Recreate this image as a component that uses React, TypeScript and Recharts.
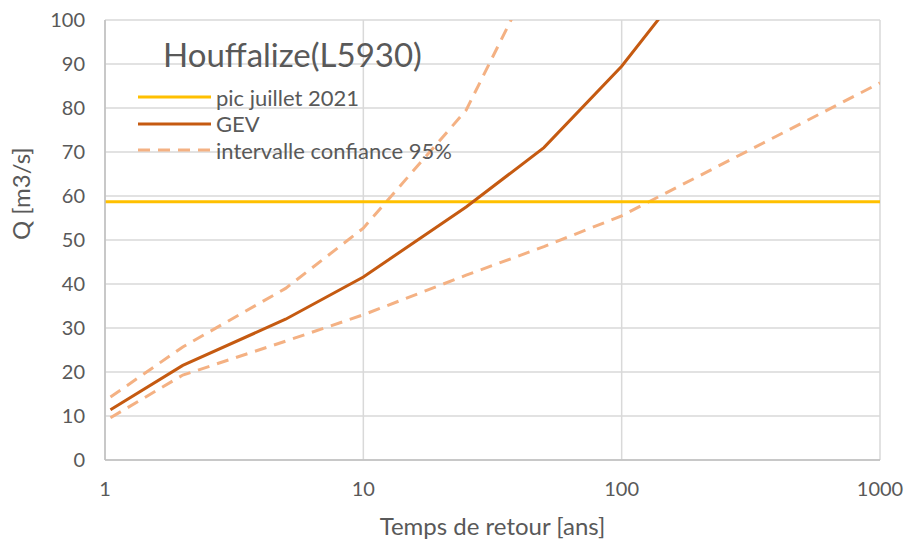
import { LineChart, Line, XAxis, YAxis, CartesianGrid } from 'recharts';

// return periods (years) and discharges (m3/s)
const returnPeriods = [1.05, 2, 5, 10, 25, 50, 100, 200];
const gevValues = [11.4, 21.5, 32, 41.6, 57.5, 71, 89.5, 112];

const upperPeriods = [1.05, 2, 5, 10, 25, 50];
const upperValues = [14.3, 25.7, 39, 52.7, 79.5, 115];

const lowerPeriods = [1.05, 2, 5, 10, 25, 50, 100, 200, 500, 1000];
const lowerValues = [9.6, 19.3, 27, 33, 42, 48.5, 55.5, 64.6, 76.6, 85.7];

const peakPeriods = [1, 1000];
const peakValues = [58.7, 58.7];

const xTicks = [1, 10, 100, 1000];
const yTicks = [0, 10, 20, 30, 40, 50, 60, 70, 80, 90, 100];

const FONT = 'Lato, "Open Sans", sans-serif';
const TEXT = '#595959';

const toSeries = (xs: number[], ys: number[]) => xs.map((T, i) => ({ T, Q: ys[i] }));

const gevData = toSeries(returnPeriods, gevValues);
const upperData = toSeries(upperPeriods, upperValues);
const lowerData = toSeries(lowerPeriods, lowerValues);
const peakData = toSeries(peakPeriods, peakValues);

const legendItems = [
  { label: 'pic juillet 2021', color: '#FFC000', dash: undefined },
  { label: 'GEV', color: '#C55A11', dash: undefined },
  { label: 'intervalle confiance 95%', color: '#F4B183', dash: '12 8' },
];

const ChartLegend = () => (
  <div style={{ position: 'absolute', left: 138, top: 84, zIndex: 2, fontFamily: FONT, fontSize: 22, color: TEXT }}>
    {legendItems.map(item => (
      <div key={item.label} style={{ display: 'flex', alignItems: 'center', height: 26.5 }}>
        <svg width={75} height={6} style={{ marginRight: 3 }}>
          <line x1={0} y1={3} x2={73} y2={3} stroke={item.color} strokeWidth={3} strokeDasharray={item.dash} />
        </svg>
        <span>{item.label}</span>
      </div>
    ))}
  </div>
);

export default function App() {
  return (
    <div style={{ position: 'absolute', left: 0, top: 0, width: 912, height: 552, background: '#fff' }}>
      <LineChart width={912} height={552} margin={{ top: 20, right: 32, left: 45, bottom: 42 }}>
        <CartesianGrid stroke="#D9D9D9" strokeWidth={1.5} horizontalValues={yTicks} verticalValues={xTicks} />
        <XAxis
          dataKey="T"
          type="number"
          scale="log"
          domain={[1, 1000]}
          ticks={xTicks}
          allowDataOverflow
          height={50}
          stroke="#BFBFBF"
          strokeWidth={1.5}
          tickLine={false}
          tickSize={0}
          tickMargin={22}
          tick={{ fill: TEXT, fontSize: 20, fontFamily: FONT }}
          label={{ value: 'Temps de retour [ans]', position: 'insideBottom', offset: -25, fill: TEXT, fontSize: 24, fontFamily: FONT }}
        />
        <YAxis
          dataKey="Q"
          type="number"
          domain={[0, 100]}
          ticks={yTicks}
          allowDataOverflow
          width={60}
          stroke="#BFBFBF"
          strokeWidth={1.5}
          tickLine={false}
          tickSize={0}
          tickMargin={20}
          tick={{ fill: TEXT, fontSize: 20, fontFamily: FONT }}
          label={{ value: 'Q [m3/s]', angle: -90, position: 'insideLeft', offset: -24, fill: TEXT, fontSize: 24, fontFamily: FONT }}
        />
        <Line
          data={upperData}
          dataKey="Q"
          type="linear"
          stroke="#F4B183"
          strokeWidth={3}
          strokeDasharray="12 8"
          dot={false}
          isAnimationActive={false}
        />
        <Line
          data={lowerData}
          dataKey="Q"
          type="linear"
          stroke="#F4B183"
          strokeWidth={3}
          strokeDasharray="12 8"
          dot={false}
          isAnimationActive={false}
        />
        <Line
          data={peakData}
          dataKey="Q"
          type="linear"
          stroke="#FFC000"
          strokeWidth={3}
          dot={false}
          isAnimationActive={false}
        />
        <Line
          data={gevData}
          dataKey="Q"
          type="linear"
          stroke="#C55A11"
          strokeWidth={3}
          dot={false}
          isAnimationActive={false}
        />
      </LineChart>
      <div
        style={{
          position: 'absolute',
          left: 163,
          top: 33,
          fontFamily: FONT,
          fontSize: 33,
          color: TEXT,
          lineHeight: '42px',
          zIndex: 2,
        }}
      >
        Houffalize(L5930)
      </div>
      <ChartLegend />
    </div>
  );
}
